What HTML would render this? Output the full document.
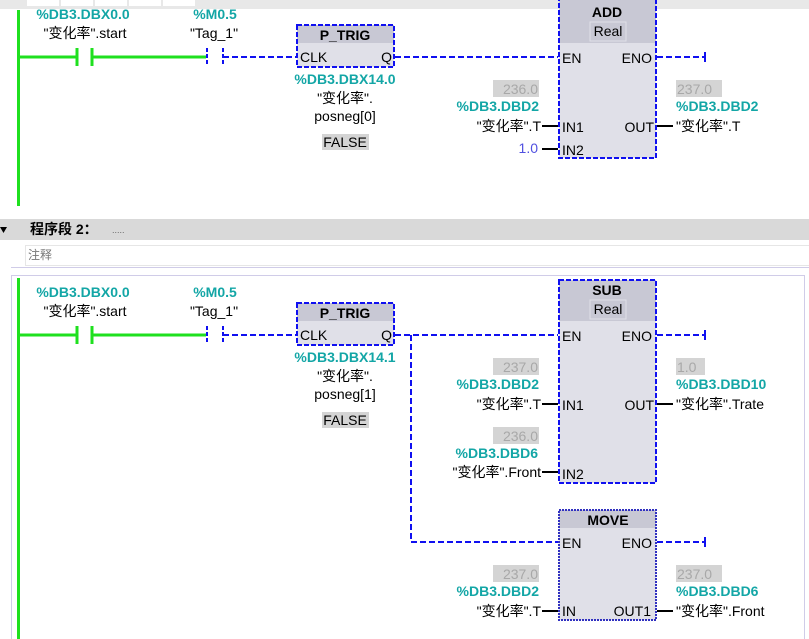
<!DOCTYPE html>
<html><head><meta charset="utf-8"><style>
html,body{margin:0;padding:0;background:#fff;width:809px;height:639px;overflow:hidden}
svg{display:block}
text{font-family:"Liberation Sans","Noto Sans CJK SC",sans-serif;font-size:14px;fill:#000}
.t{fill:#13a6a6;font-weight:bold}
.c{text-anchor:middle}.r{text-anchor:end}
.g{fill:#a8a8a8}
.b{font-weight:bold}
</style></head><body>
<svg width="809" height="639" viewBox="0 0 809 639" xmlns="http://www.w3.org/2000/svg">
<rect x="0" y="0" width="809" height="9" fill="#e8e8e8"/>
<rect x="27" y="0" width="32" height="6" fill="#fff"/><rect x="61" y="0" width="32" height="6" fill="#fff"/><rect x="95" y="0" width="32" height="6" fill="#fff"/><rect x="129" y="0" width="32" height="6" fill="#fff"/><rect x="163" y="0" width="32" height="6" fill="#fff"/>

<rect x="17" y="10" width="3" height="196" fill="#1fe01f"/>
<line x1="19" y1="57" x2="76" y2="57" stroke="#1fe01f" stroke-width="3"/>
<line x1="77" y1="48" x2="77" y2="66" stroke="#1fe01f" stroke-width="3"/>
<line x1="92" y1="48" x2="92" y2="66" stroke="#1fe01f" stroke-width="3"/>
<line x1="92" y1="57" x2="206" y2="57" stroke="#1fe01f" stroke-width="3"/>
<line x1="207" y1="48" x2="207" y2="66" stroke="#1010f0" stroke-width="2" stroke-dasharray="4,2"/>
<line x1="223" y1="48" x2="223" y2="66" stroke="#1010f0" stroke-width="2" stroke-dasharray="4,2"/>
<line x1="223" y1="57" x2="297" y2="57" stroke="#1010f0" stroke-width="2" stroke-dasharray="6,3"/>
<text class="t c" x="83" y="19">%DB3.DBX0.0</text>
<text class="c" x="85" y="38">"变化率".start</text>
<text class="t c" x="215" y="19">%M0.5</text>
<text class="c" x="214" y="38">"Tag_1"</text>
<rect x="297" y="25" width="97" height="42" fill="#e0e0e8"/>
<rect x="297" y="25" width="97" height="18" fill="#c8c8d4"/>
<rect x="297" y="25" width="97" height="42" fill="none" stroke="#1010f0" stroke-width="2" stroke-dasharray="5,2"/>
<text class="b c" x="345" y="40">P_TRIG</text>
<text x="300" y="62">CLK</text><text class="r" x="392" y="62">Q</text>
<text class="t c" x="345" y="84">%DB3.DBX14.0</text>
<text class="c" x="345" y="103">"变化率".</text>
<text class="c" x="345" y="121">posneg[0]</text>
<rect x="322" y="134" width="47" height="16" fill="#d4d4d4"/>
<text class="c" x="345" y="147">FALSE</text>
<line x1="395" y1="57" x2="558" y2="57" stroke="#1010f0" stroke-width="2" stroke-dasharray="6,3"/>
<rect x="559" y="0" width="97" height="158" fill="#e0e0e8"/>
<rect x="559" y="0" width="97" height="43" fill="#c8c8d4"/>
<rect x="590" y="22" width="36" height="19" fill="none" stroke="#e0e0e8"/>
<text class="b c" x="607" y="17">ADD</text>
<text class="c" x="608" y="36">Real</text>
<rect x="559" y="-2" width="97" height="160" fill="none" stroke="#1010f0" stroke-width="2" stroke-dasharray="5,2"/>
<text x="562" y="63">EN</text><text class="r" x="652" y="63">ENO</text>
<text x="562" y="132">IN1</text><text class="r" x="654" y="132">OUT</text>
<text x="562" y="155">IN2</text>
<line x1="657" y1="57" x2="705" y2="57" stroke="#1010f0" stroke-width="2" stroke-dasharray="6,3"/>
<line x1="705" y1="52" x2="705" y2="62" stroke="#1010f0" stroke-width="2"/>
<rect x="493" y="80" width="46" height="17" fill="#d4d4d4"/><text class="g r" x="538" y="94">236.0</text>
<text class="t r" x="539" y="111">%DB3.DBD2</text>
<text class="r" x="541" y="131">"变化率".T</text>
<line x1="542" y1="126" x2="558" y2="126" stroke="#000" stroke-width="2"/>
<text class="r" x="538" y="153" style="fill:#5050e0">1.0</text>
<line x1="542" y1="149" x2="558" y2="149" stroke="#000" stroke-width="2"/>
<rect x="676" y="80" width="46" height="17" fill="#d4d4d4"/><text class="g" x="677" y="94">237.0</text>
<text class="t" x="676" y="111">%DB3.DBD2</text>
<text x="676" y="131">"变化率".T</text>
<line x1="657" y1="126" x2="673" y2="126" stroke="#000" stroke-width="2"/>

<rect x="0" y="219" width="809" height="21" fill="#d9d9d9"/>
<polygon points="0,227 7,227 3.5,233" fill="#000"/>
<text class="b" x="30" y="234">程序段 2：</text>
<text x="112" y="233" style="font-size:9px;fill:#666">.....</text>
<rect x="25.5" y="245.5" width="790" height="20" fill="#fff" stroke="#e6e6e6"/>
<text x="28" y="259" style="fill:#777;font-size:12px">注释</text>
<line x1="11" y1="267.5" x2="809" y2="267.5" stroke="#d0cce8"/>
<rect x="11.5" y="275.5" width="793" height="380" fill="none" stroke="#d0cce8"/>

<rect x="17" y="278" width="3" height="361" fill="#1fe01f"/>
<line x1="19" y1="335" x2="76" y2="335" stroke="#1fe01f" stroke-width="3"/>
<line x1="77" y1="326" x2="77" y2="344" stroke="#1fe01f" stroke-width="3"/>
<line x1="92" y1="326" x2="92" y2="344" stroke="#1fe01f" stroke-width="3"/>
<line x1="92" y1="335" x2="206" y2="335" stroke="#1fe01f" stroke-width="3"/>
<line x1="207" y1="326" x2="207" y2="344" stroke="#1010f0" stroke-width="2" stroke-dasharray="4,2"/>
<line x1="223" y1="326" x2="223" y2="344" stroke="#1010f0" stroke-width="2" stroke-dasharray="4,2"/>
<line x1="223" y1="335" x2="297" y2="335" stroke="#1010f0" stroke-width="2" stroke-dasharray="6,3"/>
<text class="t c" x="83" y="297">%DB3.DBX0.0</text>
<text class="c" x="85" y="316">"变化率".start</text>
<text class="t c" x="215" y="297">%M0.5</text>
<text class="c" x="214" y="316">"Tag_1"</text>
<rect x="297" y="303" width="97" height="42" fill="#e0e0e8"/>
<rect x="297" y="303" width="97" height="18" fill="#c8c8d4"/>
<rect x="297" y="303" width="97" height="42" fill="none" stroke="#1010f0" stroke-width="2" stroke-dasharray="5,2"/>
<text class="b c" x="345" y="318">P_TRIG</text>
<text x="300" y="340">CLK</text><text class="r" x="392" y="340">Q</text>
<text class="t c" x="345" y="362">%DB3.DBX14.1</text>
<text class="c" x="345" y="381">"变化率".</text>
<text class="c" x="345" y="399">posneg[1]</text>
<rect x="322" y="412" width="47" height="16" fill="#d4d4d4"/>
<text class="c" x="345" y="425">FALSE</text>
<line x1="395" y1="335" x2="558" y2="335" stroke="#1010f0" stroke-width="2" stroke-dasharray="6,3"/>
<polyline points="411,335 411,542 558,542" fill="none" stroke="#1010f0" stroke-width="2" stroke-dasharray="6,3"/>
<rect x="559" y="280" width="97" height="203" fill="#e0e0e8"/>
<rect x="559" y="280" width="97" height="41" fill="#c8c8d4"/>
<rect x="590" y="300" width="36" height="19" fill="none" stroke="#e0e0e8"/>
<text class="b c" x="607" y="295">SUB</text>
<text class="c" x="608" y="314">Real</text>
<rect x="559" y="280" width="97" height="203" fill="none" stroke="#1010f0" stroke-width="2" stroke-dasharray="5,2"/>
<text x="562" y="341">EN</text><text class="r" x="652" y="341">ENO</text>
<text x="562" y="410">IN1</text><text class="r" x="654" y="410">OUT</text>
<text x="562" y="479">IN2</text>
<line x1="657" y1="335" x2="705" y2="335" stroke="#1010f0" stroke-width="2" stroke-dasharray="6,3"/>
<line x1="705" y1="330" x2="705" y2="340" stroke="#1010f0" stroke-width="2"/>
<rect x="493" y="358" width="46" height="17" fill="#d4d4d4"/><text class="g r" x="538" y="372">237.0</text>
<text class="t r" x="539" y="389">%DB3.DBD2</text>
<text class="r" x="541" y="409">"变化率".T</text>
<line x1="542" y1="404" x2="558" y2="404" stroke="#000" stroke-width="2"/>
<rect x="493" y="427" width="46" height="17" fill="#d4d4d4"/><text class="g r" x="538" y="441">236.0</text>
<text class="t r" x="538" y="458">%DB3.DBD6</text>
<text class="r" x="541" y="477">"变化率".Front</text>
<line x1="542" y1="472" x2="558" y2="472" stroke="#000" stroke-width="2"/>
<rect x="676" y="358" width="29" height="17" fill="#d4d4d4"/><text class="g" x="677" y="372">1.0</text>
<text class="t" x="676" y="389">%DB3.DBD10</text>
<text x="676" y="409">"变化率".Trate</text>
<line x1="657" y1="404" x2="673" y2="404" stroke="#000" stroke-width="2"/>
<rect x="559" y="510" width="97" height="110" fill="#e0e0e8"/>
<rect x="559" y="510" width="97" height="18" fill="#c8c8d4"/>
<rect x="559" y="510" width="97" height="110" fill="none" stroke="#3030c0" stroke-width="2" stroke-dasharray="2,1"/>
<text class="b c" x="608" y="525">MOVE</text>
<text x="562" y="548">EN</text><text class="r" x="652" y="548">ENO</text>
<text x="562" y="616">IN</text><text class="r" x="651" y="616">OUT1</text>
<line x1="657" y1="542" x2="705" y2="542" stroke="#1010f0" stroke-width="2" stroke-dasharray="6,3"/>
<line x1="705" y1="537" x2="705" y2="547" stroke="#1010f0" stroke-width="2"/>
<rect x="493" y="565" width="46" height="17" fill="#d4d4d4"/><text class="g r" x="538" y="579">237.0</text>
<text class="t r" x="539" y="596">%DB3.DBD2</text>
<text class="r" x="541" y="616">"变化率".T</text>
<line x1="542" y1="611" x2="558" y2="611" stroke="#000" stroke-width="2"/>
<rect x="676" y="565" width="46" height="17" fill="#d4d4d4"/><text class="g" x="677" y="579">237.0</text>
<text class="t" x="676" y="596">%DB3.DBD6</text>
<text x="676" y="616">"变化率".Front</text>
<line x1="657" y1="611" x2="673" y2="611" stroke="#000" stroke-width="2"/>
</svg>
</body></html>
